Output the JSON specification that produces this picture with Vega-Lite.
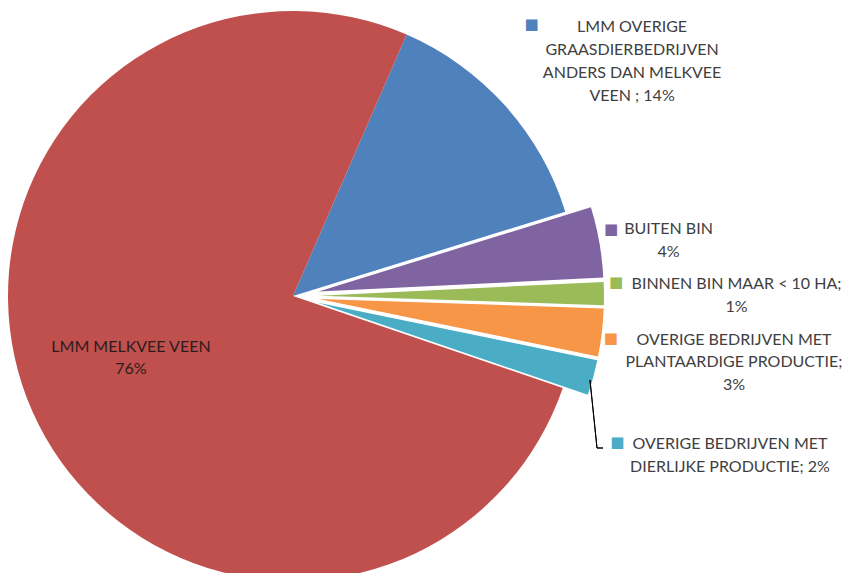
{
  "$schema": "https://vega.github.io/schema/vega-lite/v6.json",
  "width": 586,
  "height": 554,
  "autosize": {"type": "none"},
  "padding": {"left": 0, "top": 19, "right": 259, "bottom": 0},
  "background": "white",
  "config": {"view": {"stroke": null}},
  "data": {
    "values": [
      {"category": "LMM OVERIGE GRAASDIERBEDRIJVEN ANDERS DAN MELKVEE VEEN", "pct": 13.7, "label": "LMM OVERIGE\nGRAASDIERBEDRIJVEN\nANDERS DAN MELKVEE\nVEEN ; 14%"},
      {"category": "BUITEN BIN", "pct": 4.0, "label": "BUITEN BIN\n4%"},
      {"category": "BINNEN BIN MAAR < 10 HA", "pct": 1.3, "label": "BINNEN BIN MAAR < 10 HA;\n1%"},
      {"category": "OVERIGE BEDRIJVEN MET PLANTAARDIGE PRODUCTIE", "pct": 2.7, "label": "OVERIGE BEDRIJVEN MET\nPLANTAARDIGE PRODUCTIE;\n3%"},
      {"category": "OVERIGE BEDRIJVEN MET DIERLIJKE PRODUCTIE", "pct": 2.0, "label": "OVERIGE BEDRIJVEN MET\nDIERLIJKE PRODUCTIE; 2%"},
      {"category": "LMM MELKVEE VEEN", "pct": 76.3, "label": "LMM MELKVEE VEEN\n76%"}
    ]
  },
  "transform": [
    {"window": [{"op": "sum", "field": "pct", "as": "cum_end"}], "frame": [null, 0]},
    {"calculate": "datum.cum_end - datum.pct", "as": "cum_start"},
    {"calculate": "(datum.cum_start + datum.cum_end) / 2", "as": "mid"},
    {"calculate": "0.41 + datum.mid / 100 * 2 * PI", "as": "ang"}
  ],
  "layer": [
    {
      "transform": [{"filter": "datum.pct >= 10"}],
      "mark": {"type": "arc", "radius": 285},
      "encoding": {
        "theta": {"field": "cum_start", "type": "quantitative", "stack": false, "scale": {"type": "linear", "domain": [0, 100], "range": [0.41, 6.69319], "nice": false, "zero": false}},
        "theta2": {"field": "cum_end"},
        "color": {"field": "category", "type": "nominal", "legend": null, "scale": {"domain": ["LMM OVERIGE GRAASDIERBEDRIJVEN ANDERS DAN MELKVEE VEEN", "BUITEN BIN", "BINNEN BIN MAAR < 10 HA", "OVERIGE BEDRIJVEN MET PLANTAARDIGE PRODUCTIE", "OVERIGE BEDRIJVEN MET DIERLIJKE PRODUCTIE", "LMM MELKVEE VEEN"], "range": ["#4F81BD", "#8064A2", "#9BBB59", "#F79646", "#4BACC6", "#C0504D"]}}
      }
    },
    {
      "transform": [{"filter": "datum.pct < 10"}],
      "mark": {"type": "arc", "radius": 285, "xOffset": {"expr": "26*sin(datum.ang)"}, "yOffset": {"expr": "-26*cos(datum.ang)"}},
      "encoding": {
        "theta": {"field": "cum_start", "type": "quantitative", "stack": false, "scale": {"type": "linear", "domain": [0, 100], "range": [0.41, 6.69319], "nice": false, "zero": false}},
        "theta2": {"field": "cum_end"},
        "color": {"field": "category", "type": "nominal", "legend": null}
      }
    },
    {
      "transform": [{"filter": "datum.category == 'OVERIGE BEDRIJVEN MET DIERLIJKE PRODUCTIE'"}],
      "mark": {"type": "arc", "radius": 68.4, "radius2": 0, "thetaOffset": 4.344, "theta2Offset": 4.344, "xOffset": 304, "yOffset": 152, "stroke": "#000000", "strokeWidth": 1, "fillOpacity": 0},
      "encoding": {
        "theta": {"field": "mid", "type": "quantitative", "stack": false, "scale": {"type": "linear", "domain": [0, 100], "range": [0.41, 6.69319], "nice": false, "zero": false}},
        "theta2": {"field": "mid"}
      }
    },
    {
      "transform": [{"filter": "datum.category == 'OVERIGE BEDRIJVEN MET DIERLIJKE PRODUCTIE'"}],
      "mark": {"type": "arc", "radius": 6, "radius2": 0, "thetaOffset": -0.2655, "theta2Offset": -0.2655, "xOffset": 304, "yOffset": 152, "stroke": "#000000", "strokeWidth": 1, "fillOpacity": 0},
      "encoding": {
        "theta": {"field": "mid", "type": "quantitative", "stack": false, "scale": {"type": "linear", "domain": [0, 100], "range": [0.41, 6.69319], "nice": false, "zero": false}},
        "theta2": {"field": "mid"}
      }
    },
    {
      "transform": [{"filter": "datum.category == 'LMM OVERIGE GRAASDIERBEDRIJVEN ANDERS DAN MELKVEE VEEN'"}],
      "mark": {"type": "text", "radius": 420, "dx": 26.2, "dy": 15.8, "align": "center", "baseline": "alphabetic", "lineBreak": "\n", "lineHeight": 23, "fontSize": 16, "font": "Lato", "fill": "#404040"},
      "encoding": {
        "theta": {"field": "mid", "type": "quantitative", "stack": false, "scale": {"type": "linear", "domain": [0, 100], "range": [0.41, 6.69319], "nice": false, "zero": false}},
        "text": {"field": "label"}
      }
    },
    {
      "transform": [{"filter": "datum.category == 'BUITEN BIN'"}],
      "mark": {"type": "text", "radius": 380, "dx": 1.3, "dy": 4.4, "align": "center", "baseline": "alphabetic", "lineBreak": "\n", "lineHeight": 22.5, "fontSize": 16, "font": "Lato", "fill": "#404040"},
      "encoding": {
        "theta": {"field": "mid", "type": "quantitative", "stack": false, "scale": {"type": "linear", "domain": [0, 100], "range": [0.41, 6.69319], "nice": false, "zero": false}},
        "text": {"field": "label"}
      }
    },
    {
      "transform": [{"filter": "datum.category == 'BINNEN BIN MAAR < 10 HA'"}],
      "mark": {"type": "text", "radius": 440, "dx": 3.5, "dy": -3.1, "align": "center", "baseline": "alphabetic", "lineBreak": "\n", "lineHeight": 22.5, "fontSize": 16, "font": "Lato", "fill": "#404040"},
      "encoding": {
        "theta": {"field": "mid", "type": "quantitative", "stack": false, "scale": {"type": "linear", "domain": [0, 100], "range": [0.41, 6.69319], "nice": false, "zero": false}},
        "text": {"field": "label"}
      }
    },
    {
      "transform": [{"filter": "datum.category == 'OVERIGE BEDRIJVEN MET PLANTAARDIGE PRODUCTIE'"}],
      "mark": {"type": "text", "radius": 440, "dx": 4, "dy": -3.2, "align": "center", "baseline": "alphabetic", "lineBreak": "\n", "lineHeight": 22.5, "fontSize": 16, "font": "Lato", "fill": "#404040"},
      "encoding": {
        "theta": {"field": "mid", "type": "quantitative", "stack": false, "scale": {"type": "linear", "domain": [0, 100], "range": [0.41, 6.69319], "nice": false, "zero": false}},
        "text": {"field": "label"}
      }
    },
    {
      "transform": [{"filter": "datum.category == 'OVERIGE BEDRIJVEN MET DIERLIJKE PRODUCTIE'"}],
      "mark": {"type": "text", "radius": 450, "dx": 2.7, "dy": 35.4, "align": "center", "baseline": "alphabetic", "lineBreak": "\n", "lineHeight": 22.5, "fontSize": 16, "font": "Lato", "fill": "#404040"},
      "encoding": {
        "theta": {"field": "mid", "type": "quantitative", "stack": false, "scale": {"type": "linear", "domain": [0, 100], "range": [0.41, 6.69319], "nice": false, "zero": false}},
        "text": {"field": "label"}
      }
    },
    {
      "transform": [{"filter": "datum.category == 'LMM MELKVEE VEEN'"}],
      "mark": {"type": "text", "radius": 180, "dx": 2.6, "dy": -16.3, "align": "center", "baseline": "alphabetic", "lineBreak": "\n", "lineHeight": 22, "fontSize": 16, "font": "Lato", "fill": "#2e1c1c"},
      "encoding": {
        "theta": {"field": "mid", "type": "quantitative", "stack": false, "scale": {"type": "linear", "domain": [0, 100], "range": [0.41, 6.69319], "nice": false, "zero": false}},
        "text": {"field": "label"}
      }
    },
    {
      "transform": [{"filter": "datum.category == 'LMM OVERIGE GRAASDIERBEDRIJVEN ANDERS DAN MELKVEE VEEN'"}],
      "mark": {"type": "text", "text": "■", "radius": 420, "dx": -74.3, "dy": 8.3, "align": "center", "baseline": "middle", "font": "DejaVu Sans", "fontSize": 15},
      "encoding": {
        "theta": {"field": "mid", "type": "quantitative", "stack": false, "scale": {"type": "linear", "domain": [0, 100], "range": [0.41, 6.69319], "nice": false, "zero": false}},
        "color": {"field": "category", "type": "nominal", "legend": null}
      }
    },
    {
      "transform": [{"filter": "datum.category == 'BUITEN BIN'"}],
      "mark": {"type": "text", "text": "■", "radius": 380, "dx": -56.2, "dy": -1.1, "align": "center", "baseline": "middle", "font": "DejaVu Sans", "fontSize": 15},
      "encoding": {
        "theta": {"field": "mid", "type": "quantitative", "stack": false, "scale": {"type": "linear", "domain": [0, 100], "range": [0.41, 6.69319], "nice": false, "zero": false}},
        "color": {"field": "category", "type": "nominal", "legend": null}
      }
    },
    {
      "transform": [{"filter": "datum.category == 'BINNEN BIN MAAR < 10 HA'"}],
      "mark": {"type": "text", "text": "■", "radius": 440, "dx": -117, "dy": -10.6, "align": "center", "baseline": "middle", "font": "DejaVu Sans", "fontSize": 15},
      "encoding": {
        "theta": {"field": "mid", "type": "quantitative", "stack": false, "scale": {"type": "linear", "domain": [0, 100], "range": [0.41, 6.69319], "nice": false, "zero": false}},
        "color": {"field": "category", "type": "nominal", "legend": null}
      }
    },
    {
      "transform": [{"filter": "datum.category == 'OVERIGE BEDRIJVEN MET PLANTAARDIGE PRODUCTIE'"}],
      "mark": {"type": "text", "text": "■", "radius": 440, "dx": -119, "dy": -10.2, "align": "center", "baseline": "middle", "font": "DejaVu Sans", "fontSize": 15},
      "encoding": {
        "theta": {"field": "mid", "type": "quantitative", "stack": false, "scale": {"type": "linear", "domain": [0, 100], "range": [0.41, 6.69319], "nice": false, "zero": false}},
        "color": {"field": "category", "type": "nominal", "legend": null}
      }
    },
    {
      "transform": [{"filter": "datum.category == 'OVERIGE BEDRIJVEN MET DIERLIJKE PRODUCTIE'"}],
      "mark": {"type": "text", "text": "■", "radius": 450, "dx": -109.8, "dy": 28.4, "align": "center", "baseline": "middle", "font": "DejaVu Sans", "fontSize": 15},
      "encoding": {
        "theta": {"field": "mid", "type": "quantitative", "stack": false, "scale": {"type": "linear", "domain": [0, 100], "range": [0.41, 6.69319], "nice": false, "zero": false}},
        "color": {"field": "category", "type": "nominal", "legend": null}
      }
    }
  ]
}
